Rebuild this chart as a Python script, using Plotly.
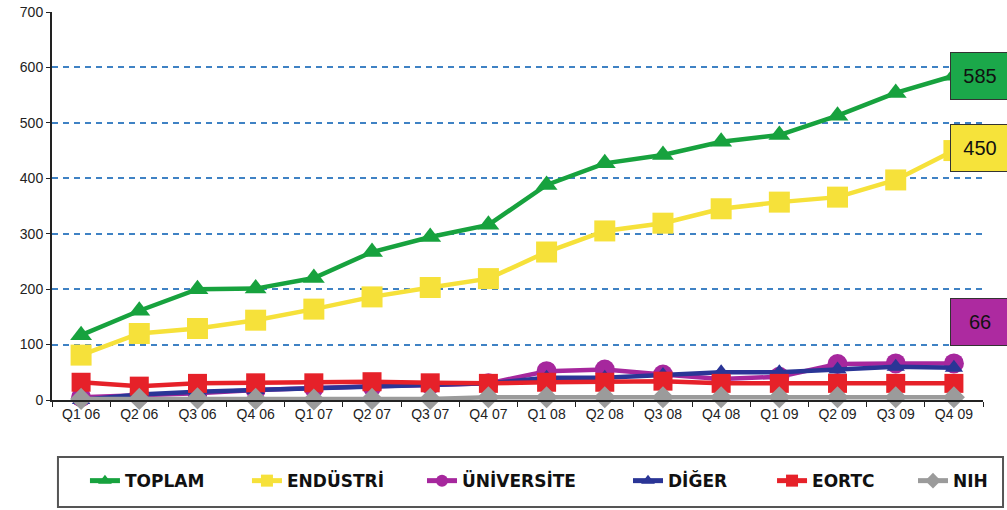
import plotly.graph_objects as go

quarters = ["Q1 06", "Q2 06", "Q3 06", "Q4 06", "Q1 07", "Q2 07", "Q3 07", "Q4 07",
            "Q1 08", "Q2 08", "Q3 08", "Q4 08", "Q1 09", "Q2 09", "Q3 09", "Q4 09"]

toplam = [117, 161, 200, 201, 220, 267, 294, 316, 388, 427, 442, 466, 478, 513, 554, 585]
endustri = [81, 120, 129, 144, 164, 186, 203, 219, 267, 305, 319, 345, 357, 366, 397, 450]
universite = [5, 8, 12, 18, 22, 25, 27, 30, 52, 55, 46, 38, 42, 65, 66, 66]
diger = [0, 10, 15, 18, 22, 25, 26, 30, 40, 40, 45, 50, 50, 55, 60, 58]
eortc = [32, 25, 30, 31, 31, 33, 31, 30, 32, 32, 34, 30, 30, 30, 30, 30]
nih = [2, 2, 3, 2, 1, 2, 2, 5, 5, 5, 5, 5, 5, 5, 5, 5]

names = ["TOPLAM", "ENDÜSTRİ", "ÜNİVERSİTE", "DİĞER", "EORTC", "NIH"]
labels = [("585", 585, "#1ba84a"), ("450", 455, "#f6e33a"), ("66", 140, "#ad2aa0")]

series = [
    (toplam, "#17a23e", "triangle-up", 19),
    (endustri, "#f6e13a", "square", 21),
    (universite, "#a6279d", "circle", 20),
    (diger, "#2a3596", "triangle-up", 16),
    (eortc, "#e62129", "square", 19),
    (nih, "#9b9b9b", "diamond", 17),
]

# horizontal start of each legend entry (paper fraction)
legend_x = [0.0354, 0.2094, 0.3974, 0.6187, 0.7734, 0.9248]

fig = go.Figure()
legend_ids = ["legend"] + ["legend%d" % i for i in range(2, 7)]
for i, (name, (vals, color, sym, size)) in enumerate(zip(names, series)):
    fig.add_trace(go.Scatter(
        x=quarters, y=vals, name=name, mode="lines+markers",
        line=dict(color=color, width=4.5),
        marker=dict(color=color, symbol=sym, size=size, line=dict(width=0)),
        cliponaxis=False, legend=legend_ids[i],
    ))

for txt, yv, bg in labels:
    fig.add_annotation(
        x=0.9968, xref="paper", y=yv, yref="y", text=txt, showarrow=False,
        xanchor="center", yanchor="middle",
        font=dict(family="Liberation Sans", size=20, color="#111"),
        bgcolor=bg, bordercolor="#333", borderwidth=1, borderpad=2,
        width=54, height=42,
    )

# legend frame
fig.add_shape(type="rect", xref="paper", yref="paper",
              x0=0.0064, x1=1.0215, y0=-0.2758, y1=-0.1469,
              line=dict(color="#555", width=2), fillcolor="rgba(0,0,0,0)")

legend_style = dict(orientation="h", xanchor="left", y=-0.209, yanchor="middle",
                    font=dict(family="DejaVu Sans", size=17, color="#111", weight="bold"),
                    bgcolor="rgba(0,0,0,0)", borderwidth=0, itemsizing="constant")
legends = {lid: dict(legend_style, x=lx) for lid, lx in zip(legend_ids, legend_x)}

fig.update_layout(
    width=1007, height=510,
    margin=dict(l=52, r=24, t=12, b=110, autoexpand=False),
    paper_bgcolor="white", plot_bgcolor="white",
    font=dict(family="Liberation Sans", size=14, color="#222"),
    showlegend=True,
    xaxis=dict(type="category", showgrid=False, showline=True, linecolor="#222", linewidth=2,
               ticks="outside", ticklen=5, tickcolor="#222", tickson="boundaries",
               tickfont=dict(size=14, color="#222"), range=[-0.5, 15.5]),
    yaxis=dict(range=[0, 700], dtick=100, showgrid=True, gridcolor="#3f82c4", gridwidth=1.5,
               griddash="6px,5px", showline=True, linecolor="#222", linewidth=2,
               ticks="outside", ticklen=4, tickcolor="#222", zeroline=False,
               tickfont=dict(size=14, color="#222")),
    **legends,
)

fig.write_html("out.html")
